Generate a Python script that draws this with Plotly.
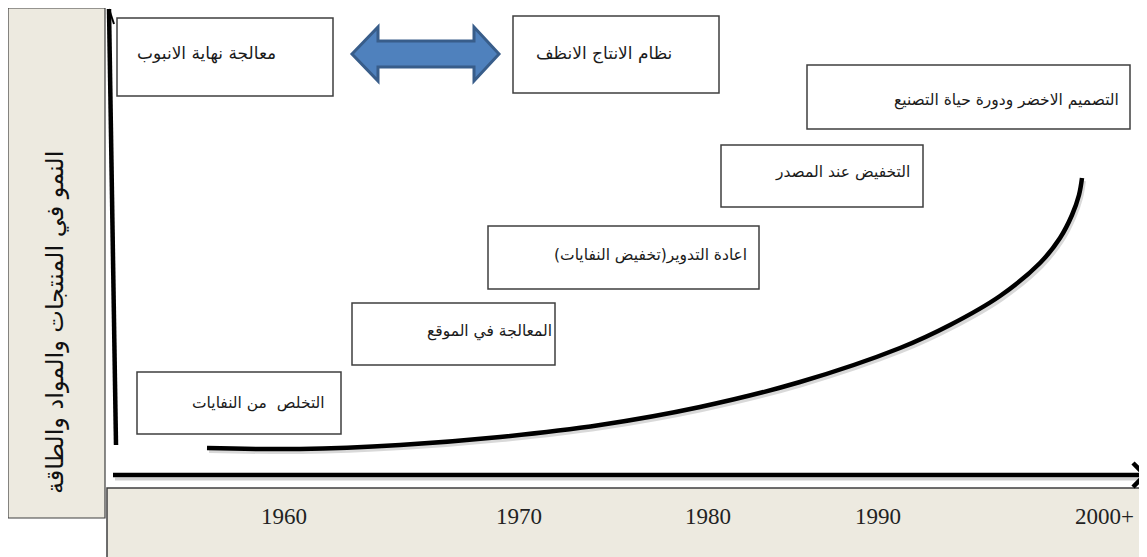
import plotly.graph_objects as go

# ---- content ----
years = ["1960", "1970", "1980", "1990", "2000+"]
stages = [
    "التخلص  من النفايات",
    "المعالجة في الموقع",
    "اعادة التدوير(تخفيض النفايات)",
    "التخفيض عند المصدر",
    "التصميم الاخضر ودورة حياة التصنيع",
]
top_left_label = "معالجة نهاية الانبوب"
top_right_label = "نظام الانتاج الانظف"
growth_title = "النمو في المنتجات والمواد والطاقة"

# growth curve (pixel-like diagram coordinates)
curve_x = [207, 300, 400, 500, 600, 700, 800, 900, 950, 1000, 1040, 1060, 1072, 1079, 1082]
curve_y = [448, 449, 445, 437, 425, 407, 382, 348, 325, 296, 263, 238, 215, 195, 178]

# ---- layout (positions only) ----
W, H = 1147, 557
OFF = 8  # page body margin compensation
year_pos = [284, 519, 708, 878, 1104]
stage_boxes = [  # x0, x1, y0, y1, text center x, text center y
    (137, 341, 372, 434, 258, 403),
    (352, 555, 303, 365, 489, 331),
    (488, 759, 226, 289, 650, 255),
    (721, 923, 145, 207, 842, 172),
    (807, 1130, 65, 129, 1006, 100),
]
top_boxes = [
    (117, 333, 18, 96, 206, 53),
    (513, 719, 16, 93, 604, 53),
]

BEIGE = "#EDEAE0"
EDGE = "#3f3f3f"
AR_FONT = "DejaVu Sans"

fig = go.Figure()

shapes = []
annotations = []

# left beige panel
shapes.append(dict(type="rect", x0=8, x1=105, y0=8, y1=518,
                   fillcolor=BEIGE, line=dict(color=EDGE, width=1.2), layer="below"))
# bottom beige panel
shapes.append(dict(type="rect", x0=107, x1=1149, y0=488, y1=559,
                   fillcolor=BEIGE, line=dict(color=EDGE, width=1.5), layer="below"))

# vertical axis line
shapes.append(dict(type="line", x0=109, y0=9, x1=116, y1=445,
                   line=dict(color="black", width=4.5)))
shapes.append(dict(type="line", x0=109, y0=9, x1=114, y1=24,
                   line=dict(color="black", width=2)))

# horizontal axis arrow (shadow + line + head)
shapes.append(dict(type="line", x0=115, y0=479, x1=1140, y1=479,
                   line=dict(color="rgba(0,0,0,0.18)", width=3)))
shapes.append(dict(type="line", x0=113, y0=475, x1=1143, y1=475,
                   line=dict(color="black", width=4.5)))
shapes.append(dict(type="path", path="M 1133 463 L 1145 475 L 1133 487",
                   line=dict(color="black", width=4.5)))

# boxes
for (x0, x1, y0, y1, tx, ty), label in zip(stage_boxes, stages):
    shapes.append(dict(type="rect", x0=x0, x1=x1, y0=y0, y1=y1,
                       fillcolor="white", line=dict(color=EDGE, width=1.5)))
    annotations.append(dict(x=tx, y=ty, text=label, showarrow=False,
                            xanchor="center", yanchor="middle",
                            font=dict(family=AR_FONT, size=15.5, color="#1a1a1a")))
for (x0, x1, y0, y1, tx, ty), label in zip(top_boxes, [top_left_label, top_right_label]):
    shapes.append(dict(type="rect", x0=x0, x1=x1, y0=y0, y1=y1,
                       fillcolor="white", line=dict(color=EDGE, width=1.5)))
    annotations.append(dict(x=tx, y=ty, text=label, showarrow=False,
                            xanchor="center", yanchor="middle",
                            font=dict(family=AR_FONT, size=17, color="#1a1a1a")))

# double arrow
shapes.append(dict(
    type="path",
    path=("M 352 54 L 378 27 L 378 41 L 474 41 L 474 27 L 499 54 "
          "L 474 81 L 474 67 L 378 67 L 378 81 Z"),
    fillcolor="#4F81BD", line=dict(color="#385D8A", width=3)))

# year labels
for yr, xp in zip(years, year_pos):
    annotations.append(dict(x=xp, y=516, text=yr, showarrow=False,
                            xanchor="center", yanchor="middle",
                            font=dict(family="Liberation Serif", size=23, color="#222")))

# rotated title in left panel
annotations.append(dict(x=55, y=323, text=growth_title, showarrow=False,
                        textangle=-90, xanchor="center", yanchor="middle",
                        font=dict(family=AR_FONT, size=24, color="#111")))

# growth curve
fig.add_trace(go.Scatter(x=[x + 2 for x in curve_x], y=[y + 3 for y in curve_y],
                         mode="lines", line=dict(color="rgba(0,0,0,0.15)", width=4, shape="spline"),
                         hoverinfo="skip", showlegend=False))
fig.add_trace(go.Scatter(x=curve_x, y=curve_y, mode="lines",
                         line=dict(color="black", width=4.5, shape="spline"),
                         hoverinfo="skip", showlegend=False))

fig.update_layout(
    width=W, height=H,
    margin=dict(l=0, r=0, t=0, b=0),
    paper_bgcolor="white", plot_bgcolor="white",
    xaxis=dict(range=[OFF, W + OFF], visible=False, fixedrange=True),
    yaxis=dict(range=[H + OFF, OFF], visible=False, fixedrange=True),
    shapes=shapes, annotations=annotations,
    showlegend=False,
)

fig.write_html("out.html", config={"displayModeBar": False})
